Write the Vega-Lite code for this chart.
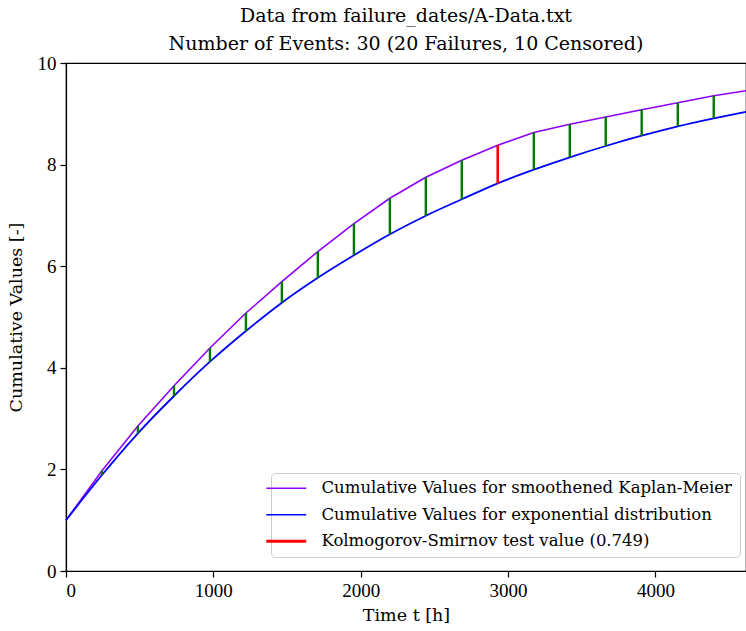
{
  "$schema": "https://vega.github.io/schema/vega-lite/v6.json",
  "width": 680,
  "height": 508,
  "autosize": {"type": "none"},
  "padding": {"left": 66, "top": 63, "right": 0, "bottom": 60},
  "background": "white",
  "title": {
    "text": ["Data from failure_dates/A-Data.txt", "Number of Events: 30 (20 Failures, 10 Censored)"],
    "anchor": "middle",
    "frame": "group",
    "font": "DejaVu Serif",
    "fontSize": 19,
    "fontWeight": "normal",
    "lineHeight": 28,
    "color": "black",
    "offset": 0
  },
  "config": {
    "view": {"stroke": "black", "strokeWidth": 1.2},
    "axis": {
      "labelFont": "Liberation Serif",
      "titleFont": "DejaVu Serif",
      "labelFontSize": 19,
      "titleFontSize": 17.5,
      "titleFontWeight": "normal",
      "labelColor": "black",
      "titleColor": "black",
      "domainColor": "black",
      "domainWidth": 1.2,
      "tickColor": "black",
      "tickWidth": 1.2,
      "tickSize": 6,
      "grid": false
    },
    "legend": {
      "labelFont": "DejaVu Serif",
      "labelFontSize": 16.5,
      "labelColor": "black",
      "labelLimit": 0
    }
  },
  "data": {
    "values": [
      {"t": 0, "km": 1.0, "exp": 1.0},
      {"t": 244, "km": 1.974, "exp": 1.89},
      {"t": 488, "km": 2.854, "exp": 2.711},
      {"t": 733, "km": 3.648, "exp": 3.445},
      {"t": 977, "km": 4.39, "exp": 4.12},
      {"t": 1221, "km": 5.079, "exp": 4.724},
      {"t": 1465, "km": 5.695, "exp": 5.282},
      {"t": 1709, "km": 6.289, "exp": 5.772},
      {"t": 1954, "km": 6.837, "exp": 6.215},
      {"t": 2198, "km": 7.337, "exp": 6.628},
      {"t": 2442, "km": 7.75, "exp": 6.994},
      {"t": 2686, "km": 8.085, "exp": 7.317},
      {"t": 2930, "km": 8.38, "exp": 7.631},
      {"t": 3175, "km": 8.632, "exp": 7.9},
      {"t": 3419, "km": 8.793, "exp": 8.144},
      {"t": 3663, "km": 8.937, "exp": 8.366},
      {"t": 3907, "km": 9.081, "exp": 8.569},
      {"t": 4152, "km": 9.219, "exp": 8.754},
      {"t": 4396, "km": 9.356, "exp": 8.911},
      {"t": 4615, "km": 9.455, "exp": 9.04}
    ]
  },
  "encoding": {
    "x": {
      "field": "t",
      "type": "quantitative",
      "scale": {"domain": [0, 4615], "nice": false, "zero": false},
      "axis": {"values": [0, 1000, 2000, 3000, 4000], "title": "Time t [h]", "labelPadding": 4, "titlePadding": 6, "format": "d"}
    }
  },
  "layer": [
    {
      "mark": {"type": "line", "strokeWidth": 1.6},
      "encoding": {
        "y": {
          "field": "km",
          "type": "quantitative",
          "scale": {"domain": [0, 10], "nice": false},
          "axis": {"values": [0, 2, 4, 6, 8, 10], "title": "Cumulative Values [-]", "titlePadding": 12, "labelPadding": 4}
        },
        "color": {
          "datum": "km",
          "type": "nominal",
          "scale": {"domain": ["km", "exp", "ks"], "range": ["#8f00ff", "#0000ff", "#ff0000"]},
          "legend": {
            "title": null,
            "orient": "none",
            "legendX": 205,
            "legendY": 410,
            "direction": "vertical",
            "fillColor": "white",
            "strokeColor": "#cccccc",
            "cornerRadius": 4,
            "padding": 7,
            "symbolType": "stroke",
            "symbolSize": 1600,
            "symbolStrokeWidth": 1.6,
            "labelOffset": 27,
            "rowPadding": 9.5,
            "labelExpr": "datum.value == 'km' ? 'Cumulative Values for smoothened Kaplan-Meier' : datum.value == 'exp' ? 'Cumulative Values for exponential distribution' : 'Kolmogorov-Smirnov test value (0.749)'",
            "encode": {"symbols": {"update": {"strokeWidth": {"signal": "datum.value == 'ks' ? 3 : 1.6"}}}}
          }
        }
      }
    },
    {
      "mark": {"type": "line", "strokeWidth": 1.8, "interpolate": "monotone"},
      "encoding": {
        "y": {"field": "exp", "type": "quantitative"},
        "color": {"datum": "exp", "type": "nominal"}
      }
    },
    {
      "transform": [{"filter": "datum.t <= 4400 && datum.t != 2930"}],
      "mark": {"type": "rule", "strokeWidth": 2.4, "color": "#007a00"},
      "encoding": {
        "y": {"field": "exp", "type": "quantitative"},
        "y2": {"field": "km"}
      }
    },
    {
      "transform": [{"filter": "datum.t == 2930"}],
      "mark": {"type": "rule", "strokeWidth": 2.6},
      "encoding": {
        "y": {"field": "exp", "type": "quantitative"},
        "y2": {"field": "km"},
        "color": {"datum": "ks", "type": "nominal"}
      }
    }
  ]
}
